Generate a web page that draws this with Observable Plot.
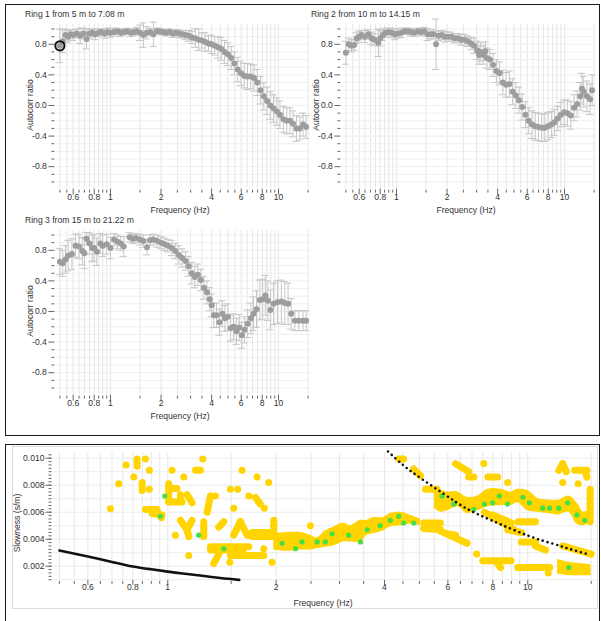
<!DOCTYPE html>
<html><head><meta charset="utf-8">
<script src="https://cdn.jsdelivr.net/npm/d3@7"></script>
<script src="https://cdn.jsdelivr.net/npm/@observablehq/plot@0.6"></script>
<style>
body{margin:0;background:#fff;}
#root{position:relative;width:601px;height:621px;overflow:hidden;font-family:"Liberation Sans",Arial,sans-serif;}
.box{position:absolute;border:1px solid #1a1a1a;box-sizing:border-box;}
.t{position:absolute;font-size:8.6px;line-height:10px;color:#333;white-space:nowrap;}
.c{transform:translateX(-50%);}
.v{transform:translate(-50%,-50%) rotate(-90deg);}
</style></head><body><div id="root"></div>
<script>
// ---------- data ----------
const ringTitles = ["Ring 1 from 5 m to 7.08 m", "Ring 2 from 10 m to 14.15 m", "Ring 3 from 15 m to 21.22 m"];
const xLabel = "Frequency (Hz)";
const acLabel = "Autocorr ratio";
const slowLabel = "Slowness (s/m)";
const xMajorTicks = [0.6, 0.8, 1, 2, 4, 6, 8, 10];
const xMinorTicks = [0.5, 0.55, 0.65, 0.7, 0.75, 0.85, 0.9, 0.95, 1.5, 2.5, 3, 3.5, 4.5, 5, 5.5, 6.5, 7, 7.5, 8.5, 9, 9.5, 15];
const acMajorTicks = [-0.8, -0.4, 0, 0.4, 0.8];
const acMinorTicks = [-1, -0.9, -0.7, -0.6, -0.5, -0.3, -0.2, -0.1, 0.1, 0.2, 0.3, 0.5, 0.6, 0.7, 0.9, 1.0];
const slowMajorTicks = [0.002, 0.004, 0.006, 0.008, 0.010];

// [frequency, autocorr, error]
const ring1 = [[0.50,0.78,0.22],[0.52,0.84,0.15],[0.54,0.92,0.08],[0.56,0.90,0.08],[0.58,0.93,0.06],[0.60,0.92,0.07],[0.63,0.94,0.06],[0.66,0.91,0.10],[0.69,0.94,0.07],[0.72,0.87,0.13],[0.75,0.94,0.06],[0.78,0.95,0.05],[0.81,0.93,0.07],[0.85,0.95,0.05],[0.88,0.96,0.04],[0.92,0.94,0.06],[0.96,0.96,0.05],[1.00,0.95,0.06],[1.05,0.96,0.05],[1.10,0.97,0.04],[1.15,0.95,0.05],[1.20,0.96,0.04],[1.26,0.97,0.04],[1.32,0.95,0.05],[1.38,0.96,0.04],[1.44,0.97,0.05],[1.50,0.95,0.10],[1.57,0.92,0.16],[1.64,0.95,0.08],[1.72,0.96,0.05],[1.80,0.93,0.16],[1.88,0.97,0.04],[1.96,0.97,0.04],[2.05,0.96,0.04],[2.15,0.95,0.04],[2.25,0.96,0.04],[2.35,0.94,0.05],[2.45,0.95,0.04],[2.56,0.94,0.05],[2.68,0.93,0.05],[2.80,0.92,0.06],[2.93,0.91,0.07],[3.06,0.89,0.08],[3.20,0.88,0.12],[3.35,0.86,0.14],[3.50,0.85,0.10],[3.66,0.83,0.12],[3.83,0.81,0.10],[4.00,0.80,0.12],[4.18,0.78,0.12],[4.37,0.76,0.14],[4.57,0.74,0.15],[4.78,0.70,0.15],[5.00,0.67,0.15],[5.23,0.62,0.15],[5.47,0.55,0.15],[5.72,0.47,0.16],[5.98,0.42,0.16],[6.25,0.39,0.16],[6.54,0.38,0.17],[6.84,0.38,0.16],[7.15,0.36,0.17],[7.48,0.30,0.17],[7.82,0.20,0.18],[8.18,0.12,0.18],[8.55,0.06,0.18],[8.94,0.00,0.18],[9.35,-0.04,0.18],[9.78,-0.08,0.18],[10.2,-0.12,0.18],[10.7,-0.18,0.17],[11.2,-0.20,0.17],[11.7,-0.20,0.17],[12.2,-0.24,0.17],[12.8,-0.30,0.17],[13.4,-0.30,0.15],[14.0,-0.25,0.15],[14.6,-0.28,0.15]];
const ring2 = [[0.50,0.69,0.15],[0.52,0.80,0.08],[0.54,0.78,0.08],[0.56,0.79,0.07],[0.58,0.88,0.07],[0.60,0.90,0.07],[0.62,0.92,0.06],[0.65,0.90,0.08],[0.68,0.93,0.06],[0.71,0.88,0.08],[0.74,0.86,0.08],[0.78,0.82,0.18],[0.80,0.88,0.10],[0.83,0.92,0.07],[0.86,0.95,0.06],[0.90,0.96,0.05],[0.94,0.95,0.06],[0.98,0.93,0.07],[1.02,0.94,0.06],[1.07,0.95,0.06],[1.12,0.97,0.04],[1.17,0.97,0.04],[1.22,0.96,0.05],[1.28,0.95,0.05],[1.34,0.97,0.04],[1.40,0.96,0.05],[1.46,0.97,0.05],[1.53,0.93,0.08],[1.60,0.93,0.06],[1.66,0.93,0.06],[1.72,0.80,0.33],[1.78,0.91,0.06],[1.86,0.92,0.06],[1.94,0.90,0.07],[2.03,0.90,0.06],[2.12,0.90,0.06],[2.22,0.88,0.06],[2.32,0.88,0.06],[2.43,0.86,0.07],[2.54,0.86,0.07],[2.66,0.84,0.07],[2.78,0.81,0.08],[2.90,0.78,0.10],[3.03,0.72,0.12],[3.10,0.66,0.12],[3.17,0.70,0.12],[3.30,0.66,0.12],[3.38,0.71,0.12],[3.45,0.62,0.13],[3.60,0.60,0.13],[3.76,0.53,0.15],[3.93,0.45,0.15],[4.11,0.42,0.15],[4.30,0.30,0.16],[4.49,0.27,0.16],[4.70,0.28,0.17],[4.91,0.18,0.17],[5.13,0.13,0.17],[5.36,0.07,0.17],[5.60,-0.02,0.17],[5.86,-0.12,0.17],[6.12,-0.20,0.17],[6.40,-0.25,0.18],[6.69,-0.27,0.18],[6.99,-0.28,0.18],[7.31,-0.29,0.18],[7.64,-0.29,0.18],[7.98,-0.27,0.18],[8.35,-0.25,0.17],[8.72,-0.22,0.17],[9.12,-0.17,0.16],[9.53,-0.12,0.16],[9.96,-0.09,0.16],[10.4,-0.10,0.17],[10.9,-0.13,0.18],[11.4,-0.03,0.17],[11.9,0.02,0.17],[12.4,0.12,0.18],[12.7,0.22,0.20],[13.0,0.18,0.20],[13.6,0.12,0.20],[14.2,0.08,0.20],[14.6,0.20,0.20]];
const ring3 = [[0.50,0.65,0.17],[0.52,0.63,0.17],[0.54,0.68,0.18],[0.56,0.73,0.20],[0.59,0.75,0.20],[0.62,0.86,0.15],[0.65,0.85,0.16],[0.68,0.79,0.18],[0.70,0.76,0.20],[0.72,0.95,0.08],[0.75,0.89,0.14],[0.78,0.83,0.18],[0.80,0.83,0.17],[0.83,0.78,0.18],[0.87,0.89,0.13],[0.90,0.86,0.14],[0.95,0.88,0.13],[1.00,0.83,0.14],[1.05,0.94,0.08],[1.10,0.91,0.09],[1.15,0.89,0.09],[1.20,0.85,0.13],[1.30,0.97,0.06],[1.36,0.95,0.06],[1.42,0.96,0.06],[1.50,0.94,0.07],[1.57,0.92,0.08],[1.65,0.84,0.10],[1.72,0.93,0.07],[1.80,0.94,0.07],[1.90,0.92,0.08],[2.00,0.90,0.08],[2.10,0.88,0.08],[2.20,0.86,0.08],[2.32,0.83,0.10],[2.43,0.79,0.10],[2.55,0.74,0.12],[2.67,0.70,0.12],[2.80,0.66,0.12],[2.92,0.59,0.13],[3.05,0.50,0.14],[3.18,0.45,0.14],[3.31,0.48,0.14],[3.45,0.41,0.14],[3.60,0.31,0.15],[3.75,0.25,0.15],[3.90,0.16,0.15],[4.00,0.08,0.15],[4.12,-0.05,0.16],[4.28,-0.05,0.16],[4.45,-0.14,0.17],[4.63,-0.03,0.17],[4.80,-0.09,0.17],[4.99,-0.07,0.17],[5.19,-0.22,0.17],[5.40,-0.20,0.17],[5.62,-0.26,0.17],[5.84,-0.21,0.17],[6.05,-0.31,0.17],[6.28,-0.24,0.17],[6.55,-0.16,0.18],[6.85,-0.09,0.20],[7.10,-0.03,0.22],[7.40,0.03,0.24],[7.75,0.15,0.26],[8.05,0.16,0.26],[8.35,0.21,0.26],[8.65,0.14,0.26],[8.95,0.02,0.26],[9.35,0.10,0.27],[9.85,0.12,0.28],[10.4,0.13,0.28],[10.9,0.11,0.28],[11.4,0.10,0.27],[11.9,-0.03,0.20],[12.5,-0.12,0.13],[13.2,-0.12,0.13],[14.0,-0.12,0.13],[14.6,-0.12,0.13]];

// bottom panel: [frequency, slowness]
const kLimitCurve = [[0.5,0.00316],[0.6,0.00272],[0.7,0.00232],[0.8,0.00198],[0.9,0.00177],[1.0,0.0016],[1.1,0.00146],[1.23,0.00131],[1.4,0.00113],[1.58,0.00099]];
const aliasCurve = [[4.09,0.0105],[4.5,0.0095],[4.93,0.0087],[5.84,0.00736],[6.78,0.00625],[7.95,0.00538],[10,0.00427],[11.8,0.00365],[13,0.0033],[14.6,0.00291]];
// [frequency, slowness low, slowness high]
const mainBand = [[1.97,0.0032,0.0044],[2.15,0.0031,0.0045],[2.34,0.0032,0.0045],[2.49,0.0032,0.0043],[2.6,0.0033,0.0041],[2.74,0.0034,0.0046],[2.89,0.0035,0.0049],[3.08,0.0038,0.0052],[3.21,0.0038,0.005],[3.43,0.0038,0.0054],[3.58,0.0043,0.0054],[3.73,0.0044,0.0056],[3.97,0.0046,0.0056],[4.15,0.0049,0.0059],[4.42,0.005,0.006],[4.7,0.0051,0.0058],[5.03,0.005,0.0055]];
const upperBand = [[5.5,0.0063,0.0076],[5.72,0.006,0.0076],[5.97,0.0061,0.0075],[6.4,0.0064,0.0075],[6.78,0.0059,0.0071],[7.25,0.0061,0.0072],[7.75,0.0064,0.0077],[8.42,0.0065,0.0077],[8.98,0.0065,0.0075],[9.38,0.0067,0.0077],[10,0.0061,0.0076],[10.7,0.006,0.007],[11.4,0.0059,0.0069],[12.2,0.0058,0.0069],[13.0,0.006,0.0072],[13.7,0.0051,0.0067],[14.3,0.005,0.006],[14.8,0.0052,0.0062]];
const lowBlock = [[12.1,0.0014,0.0025],[13,0.0013,0.0023],[14,0.0013,0.0022],[15,0.0013,0.0021]];
// [f1, s1, f2, s2]
const histStrokes = [[0.822,0.00995,0.822,0.0094],[0.849,0.0082,0.849,0.0076],[0.867,0.0062,0.934,0.0062],[0.905,0.0059,0.964,0.0058],[0.93,0.0061,0.96,0.0056],[1.006,0.0081,1.006,0.0068],[1.006,0.00675,1.096,0.00675],[1.028,0.00775,1.061,0.00775],[1.084,0.0073,1.084,0.0068],[1.194,0.0091,1.232,0.0091],[1.131,0.0073,1.168,0.0067],[1.314,0.0072,1.286,0.006],[1.084,0.0054,1.131,0.0047],[1.168,0.0054,1.131,0.0047],[1.131,0.0047,1.144,0.0042],[1.259,0.0053,1.259,0.0042],[1.386,0.0049,1.431,0.0053],[1.525,0.0043,1.591,0.0053],[1.591,0.0053,1.662,0.0043],[1.751,0.0071,1.808,0.0066],[1.715,0.0045,1.927,0.0045],[1.715,0.0042,1.927,0.0042],[1.97,0.0054,1.97,0.0042],[1.314,0.00345,1.679,0.00345],[1.314,0.0032,1.62,0.0032],[1.493,0.0028,1.848,0.0028],[1.342,0.0022,1.386,0.0029],[4.38,0.00995,4.52,0.00995],[4.82,0.0092,5.03,0.0087],[6.3,0.0096,6.85,0.009],[6.85,0.0086,7.08,0.0086],[7.75,0.0086,8.25,0.0086],[12.2,0.0091,12.5,0.0096],[12.5,0.0096,12.8,0.009],[13.5,0.0091,14.6,0.0091],[14.4,0.0091,14.6,0.0086],[5.2,0.0077,5.6,0.0077],[5.14,0.0052,5.72,0.0052],[5.14,0.0048,5.72,0.0047],[5.72,0.0046,6.78,0.0037],[5.97,0.0044,6.3,0.0043],[7.5,0.0024,8.98,0.0024],[8.2,0.0023,8.4,0.0019],[9.38,0.0019,11.5,0.0019],[7.58,0.006,9.18,0.0047],[8.0,0.0058,9.0,0.0052],[9.4,0.0053,10.5,0.0053],[8.8,0.0047,9.6,0.0045],[9.6,0.0038,10.5,0.0038],[10.5,0.0035,11.2,0.0032],[12.5,0.0035,15,0.0029],[14.9,0.0077,14.9,0.0053]];
const histSpots = [[0.693,0.00625],[0.731,0.0081],[0.766,0.0095],[0.867,0.00995],[0.805,0.0086],[0.889,0.0091],[0.889,0.0077],[1.028,0.0091],[1.108,0.0086],[1.251,0.00995],[1.05,0.0043],[1.144,0.0028],[1.356,0.0072],[1.525,0.0063],[1.608,0.0091],[1.493,0.0077],[1.564,0.0077],[1.679,0.0072],[1.77,0.0086],[1.907,0.0082],[1.855,0.0063],[1.487,0.0023],[1.948,0.0023],[1.848,0.0033],[7.21,0.0029],[7.55,0.0096],[8.79,0.0082],[12.5,0.0082],[13.8,0.0081],[11.4,0.0015],[2.49,0.005]];
const peakSpots = [[0.954,0.0057],[0.981,0.0072],[1.219,0.0043],[1.431,0.0033],[2.078,0.0037],[2.264,0.0033],[2.36,0.0038],[2.6,0.0038],[2.74,0.0038],[2.86,0.0044],[3.18,0.0043],[3.43,0.0038],[3.58,0.0047],[3.89,0.005],[4.15,0.0054],[4.38,0.0057],[4.52,0.0052],[4.82,0.0052],[5.78,0.0072],[6.23,0.0066],[7.08,0.0062],[7.58,0.0066],[7.99,0.0067],[8.34,0.0072],[8.79,0.0066],[9.7,0.0071],[10.1,0.0067],[11,0.0063],[11.5,0.0063],[12.2,0.0063],[12.9,0.0067],[13.7,0.0058],[14.4,0.0054],[13.0,0.0019]];

// ---------- drawing ----------
const FONT = '"Liberation Sans", Arial, sans-serif';
const YEL = "#ffd400", GRN = "#44e044";
const root = document.getElementById("root");
const xGridVals = [...xMinorTicks, ...xMajorTicks];
const acGridVals = [...acMinorTicks, ...acMajorTicks];

function addText(txt, x, y, cls) {
  const d = document.createElement("div");
  d.className = "t " + (cls || "");
  d.textContent = txt;
  d.style.left = x + "px"; d.style.top = y + "px";
  root.appendChild(d);
}
function place(el, x, y) {
  el.style.position = "absolute"; el.style.left = x + "px"; el.style.top = y + "px";
  root.appendChild(el);
}
function box(x, y, w, h, color) {
  const d = document.createElement("div");
  d.className = "box";
  Object.assign(d.style, {left: x + "px", top: y + "px", width: w + "px", height: h + "px"});
  if (color) d.style.borderColor = color;
  root.appendChild(d);
}

const fx = d => d[0];
function xAxisMarks(labelDy, majorDy, minorDy, majorSize) {
  return [
    Plot.axisX(xMinorTicks, {tickSize: 3, dy: minorDy, tickFormat: () => "", stroke: "#666", label: null}),
    Plot.axisX(xMajorTicks, {tickSize: majorSize, dy: majorDy, tickFormat: () => "", stroke: "#666", label: null}),
    Plot.text(xMajorTicks, {x: d => d, text: d => String(d), frameAnchor: "bottom", dy: labelDy, fill: "#333"})
  ];
}
function ringPlot(data, highlight) {
  const errStyle = {stroke: "#c6c6c6", strokeWidth: 1};
  return Plot.plot({
    width: 320, height: 225,
    marginLeft: 56.4, marginRight: 10, marginTop: 23.9, marginBottom: 37.4,
    x: {type: "log", domain: [0.48, 15.5]},
    y: {domain: [-1.08, 1.06]},
    style: {background: "none", fontSize: "8.6px", fontFamily: FONT, color: "#333", overflow: "visible"},
    marks: [
      Plot.gridX(xGridVals, {stroke: "#e6e6e6", strokeOpacity: 1}),
      Plot.gridY(acGridVals, {stroke: "#efefef", strokeOpacity: 1}),
      Plot.ruleX(data, {x: fx, y1: d => d[1] - d[2], y2: d => d[1] + d[2], ...errStyle}),
      Plot.ruleY(data, {y: d => d[1] + d[2], x1: d => d[0] / 1.05, x2: d => d[0] * 1.05, ...errStyle}),
      Plot.ruleY(data, {y: d => d[1] - d[2], x1: d => d[0] / 1.05, x2: d => d[0] * 1.05, ...errStyle}),
      Plot.dot(data, {x: fx, y: d => d[1], r: 3, fill: "#9d9d9d"}),
      highlight ? Plot.dot([data[0]], {x: fx, y: d => d[1], r: 4.6, stroke: "#111", strokeWidth: 2, fill: "none"}) : null,
      ...xAxisMarks(12, 1, 2, 6),
      Plot.axisY(acMinorTicks, {tickSize: 3, dx: -2, tickFormat: () => "", stroke: "#666", label: null}),
      Plot.axisY(acMajorTicks, {tickSize: 6, dx: -2, tickPadding: 2, tickFormat: d => d.toFixed(1), stroke: "#666", fill: "#333", label: null})
    ]
  });
}

// top box
box(5, 4, 595, 432);
const rings = [ring1, ring2, ring3];
const offs = [[0, 0], [286, 0], [0, 206]];
rings.forEach((r, i) => {
  const [ox, oy] = offs[i];
  place(ringPlot(r, i === 0), ox, oy);
  addText(ringTitles[i], ox + 25, oy + 9);
  addText(xLabel, ox + 180, oy + 205, "c");
  addText(acLabel, ox + 30, oy + 105, "v");
});

// bottom box
box(5, 444, 595, 200);
box(12, 446, 586, 163, "#dcdcdc");
const slowMinor = d3.range(0.001, 0.01026, 0.00025);
const slowGrid = d3.range(0.001, 0.0105, 0.001);
const hist = Plot.plot({
  width: 601, height: 191,
  marginLeft: 52.5, marginRight: 4.2, marginTop: 22.3, marginBottom: 41.1,
  x: {type: "log", domain: [0.48, 15.6]},
  y: {domain: [0.00095, 0.0104]},
  style: {background: "none", fontSize: "8.6px", fontFamily: FONT, color: "#333", overflow: "visible"},
  marks: [
    Plot.gridX(xGridVals, {stroke: "#e8e8e8", strokeOpacity: 1}),
    Plot.gridY(slowGrid, {stroke: "#ececec", strokeOpacity: 1}),
    Plot.areaY(mainBand, {x: fx, y1: d => d[1], y2: d => d[2], fill: YEL, curve: "catmull-rom"}),
    Plot.areaY(upperBand, {x: fx, y1: d => d[1], y2: d => d[2], fill: YEL, curve: "catmull-rom"}),
    Plot.areaY(lowBlock, {x: fx, y1: d => d[1], y2: d => d[2], fill: YEL, curve: "catmull-rom"}),
    Plot.link(histStrokes, {x1: d => d[0], y1: d => d[1], x2: d => d[2], y2: d => d[3], stroke: YEL, strokeWidth: 7, strokeLinecap: "round"}),
    Plot.dot(histSpots, {x: fx, y: d => d[1], r: 3.5, fill: YEL}),
    Plot.dot(peakSpots, {x: fx, y: d => d[1], r: 2.6, fill: GRN}),
    Plot.line(kLimitCurve, {x: fx, y: d => d[1], stroke: "#111", strokeWidth: 2.6, curve: "natural"}),
    Plot.line(aliasCurve, {x: fx, y: d => d[1], stroke: "#111", strokeWidth: 2.6, strokeDasharray: "0,5", strokeLinecap: "round", curve: "natural"}),
    ...xAxisMarks(10, 0, 1, 5),
    Plot.axisY(slowMinor, {tickSize: 3, dx: -1, tickFormat: () => "", stroke: "#666", label: null}),
    Plot.axisY(slowMajorTicks, {tickSize: 6, dx: -1, tickPadding: 1.5, tickFormat: d => d.toFixed(3), stroke: "#666", fill: "#333", label: null})
  ]
});
place(hist, 0, 430);
addText(xLabel, 323, 598, "c");
addText(slowLabel, 17, 523, "v");
</script></body></html>
